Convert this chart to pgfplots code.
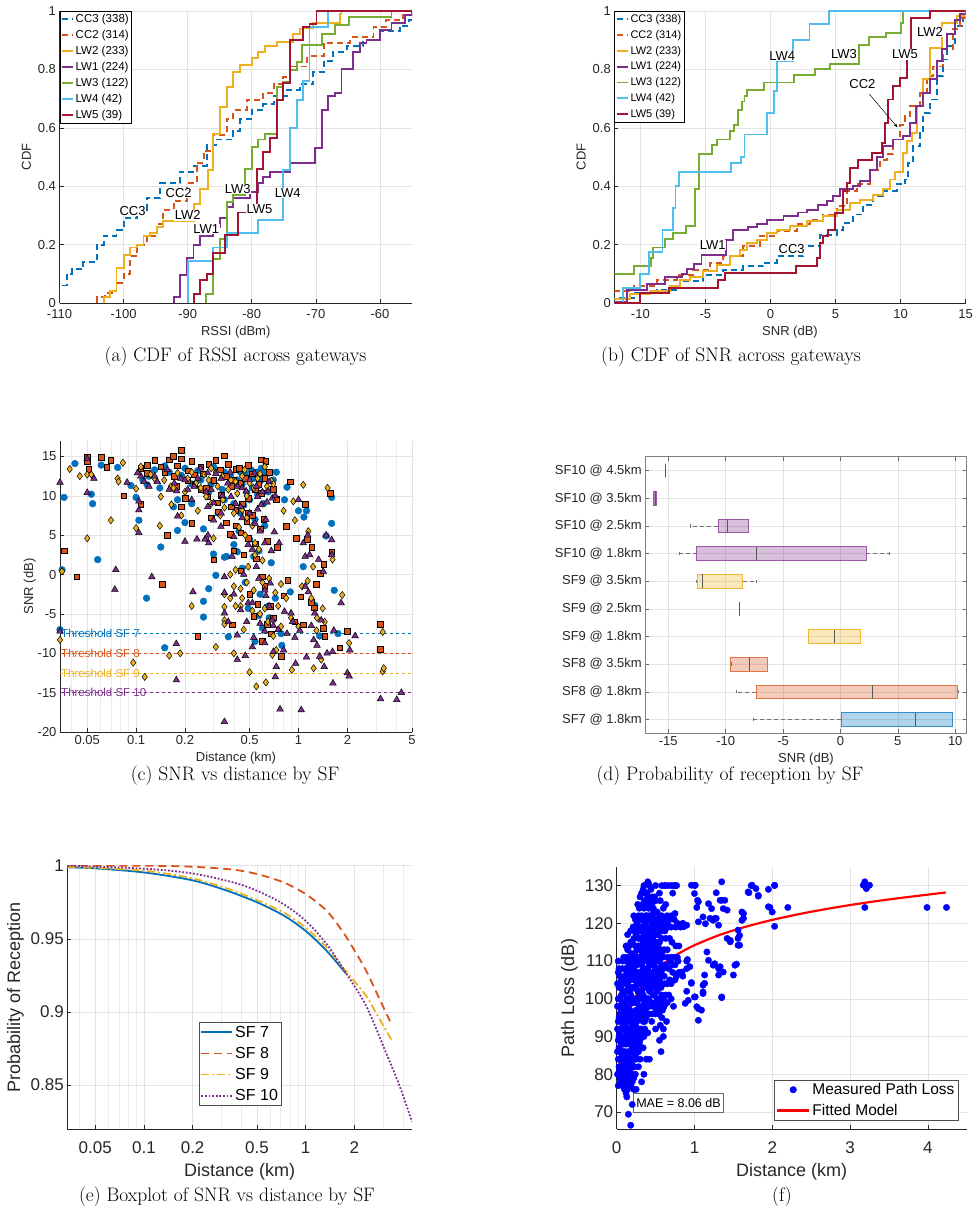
\documentclass[border=0pt]{standalone}
\usepackage{fontspec}
\setsansfont{Liberation Sans}
\usepackage{pgfplots}
\pgfplotsset{compat=1.18}
\usepgfplotslibrary{statistics}
\usetikzlibrary{arrows.meta}
\definecolor{mblue}{rgb}{0,0.447,0.741}
\definecolor{morange}{rgb}{0.85,0.325,0.098}
\definecolor{myellow}{rgb}{0.929,0.694,0.125}
\definecolor{mpurple}{rgb}{0.494,0.184,0.556}
\definecolor{mgreen}{rgb}{0.466,0.674,0.188}
\definecolor{mlblue}{rgb}{0.301,0.745,0.933}
\definecolor{mred}{rgb}{0.635,0.078,0.184}
\definecolor{axgray}{HTML}{262626}
\definecolor{gridgray}{HTML}{E3E3E3}
\newcommand{\fa}{\sffamily\fontsize{13}{15}\selectfont}
\newcommand{\fb}{\sffamily\fontsize{11.5}{13}\selectfont}
\newcommand{\fe}{\sffamily\fontsize{17}{20}\selectfont}
\newcommand{\fcap}{\fontsize{19.5}{22}\selectfont}
\tikzset{lab/.style={fill=white, inner sep=0.6pt, font=\fa, text=black}}
\pgfplotsset{
  matbase/.style={
    scale only axis,
    /pgf/number format/assume math mode=true,
    tick label style={color=axgray},
    label style={color=axgray},
    axis line style={-, axgray, line width=0.6pt},
    tick style={axgray, line width=0.6pt},
    tick align=inside,
    major tick length=4pt,
    minor tick length=0pt,
    grid=major,
    major grid style={gridgray, line width=0.6pt},
    minor grid style={gridgray!70, line width=0.4pt},
  },
  mat/.style={matbase, axis x line*=bottom, axis y line*=left},
  cdf/.style={const plot, no marks, line width=1.9pt},
  ccdash/.style={dash pattern=on 6pt off 4pt},
}
\begin{document}
\begin{tikzpicture}
\path[use as bounding box] (0,0) rectangle (979pt,-1212pt);
% ---------------- (a)
\begin{axis}[mat, at={(59.5pt,-11pt)}, anchor=north west, width=352.5pt, height=292pt,
  xmin=-110, xmax=-55, ymin=0, ymax=1,
  xtick={-110,-100,-90,-80,-70,-60}, ytick={0,0.2,0.4,0.6,0.8,1},
  tick label style={font=\fa}, label style={font=\fa}, xticklabel style={yshift=-3pt},
  xlabel={RSSI (dBm)}, ylabel={CDF},
  legend style={at={(0,1)}, anchor=north west, draw=black, line width=0.6pt, font=\fb, inner sep=1pt, row sep=2.2pt, cells={anchor=west}},
  legend image code/.code={\draw[#1] (0pt,0pt) -- (11pt,0pt);}]
\addplot[cdf, ccdash, mblue] coordinates {(-110,0)(-110,0.06)(-108.9,0.10)(-108.1,0.115)(-106.3,0.14)(-104.2,0.20)(-103.1,0.23)(-101.1,0.25)(-100,0.29)(-97.9,0.32)(-96.4,0.36)(-94.3,0.41)(-91.2,0.45)(-89.1,0.47)(-87.0,0.54)(-85.5,0.56)(-82.9,0.59)(-81.8,0.63)(-80,0.66)(-78.2,0.68)(-76.6,0.71)(-74.5,0.73)(-72.5,0.75)(-70.4,0.79)(-68.8,0.83)(-67.3,0.86)(-65.2,0.88)(-62.6,0.90)(-60,0.93)(-56.9,0.95)(-55.5,0.97)(-55,0.97)};
\addlegendentry{CC3 (338)}
\addplot[cdf, ccdash, morange] coordinates {(-104.1,0)(-104.1,0.02)(-102.9,0.035)(-101.1,0.07)(-100,0.1)(-99.0,0.16)(-97.9,0.2)(-96.4,0.23)(-94.8,0.27)(-93.8,0.32)(-92.2,0.35)(-90.1,0.41)(-88.6,0.48)(-87.5,0.52)(-86.0,0.575)(-83.9,0.63)(-82.9,0.66)(-80.8,0.695)(-78.2,0.72)(-76.6,0.75)(-75.1,0.775)(-74.0,0.81)(-71.4,0.845)(-68.8,0.89)(-64.7,0.91)(-61.0,0.945)(-59.0,0.97)(-56.4,0.985)(-55,1)};
\addlegendentry{CC2 (314)}
\addplot[cdf, myellow] coordinates {(-103.1,0)(-103.1,0.02)(-102.1,0.04)(-101.1,0.12)(-100,0.165)(-99.0,0.19)(-97.9,0.2)(-96.9,0.23)(-95.9,0.24)(-94.8,0.26)(-93.8,0.28)(-88.95,0.34)(-88.1,0.39)(-86.9,0.455)(-86.0,0.58)(-84.95,0.67)(-83.9,0.74)(-82.9,0.79)(-81.8,0.815)(-80,0.84)(-79,0.86)(-77.9,0.88)(-76.1,0.895)(-73.5,0.92)(-72.5,0.94)(-70.4,0.96)(-66.2,0.99)(-66,1)(-55,1)};
\addlegendentry{LW2 (233)}
\addplot[cdf, mpurple] coordinates {(-92.1,0)(-92.1,0.02)(-91.2,0.095)(-90.1,0.155)(-89.1,0.2)(-88.1,0.23)(-86.0,0.26)(-85,0.29)(-83.9,0.33)(-82.9,0.36)(-80.3,0.38)(-79.0,0.41)(-78.2,0.43)(-77.2,0.45)(-74.0,0.48)(-70.1,0.53)(-69.1,0.66)(-68.1,0.71)(-67.0,0.72)(-66.0,0.8)(-64.2,0.86)(-63.1,0.89)(-62.1,0.9)(-60,0.935)(-58.2,0.96)(-56.1,0.985)(-55,1)};
\addlegendentry{LW1 (224)}
\addplot[cdf, mgreen] coordinates {(-87.1,0)(-87.1,0.03)(-86.0,0.15)(-85.0,0.22)(-83.9,0.345)(-82.9,0.37)(-81.0,0.46)(-80.0,0.535)(-79.0,0.56)(-77.9,0.58)(-76.1,0.74)(-75.1,0.758)(-74.0,0.798)(-73.0,0.826)(-72.2,0.884)(-69.1,0.92)(-67.0,0.952)(-64.9,0.98)(-58.2,1)(-55,1)};
\addlegendentry{LW3 (122)}
\addplot[cdf, mlblue] coordinates {(-90.0,0)(-90.0,0.143)(-86.0,0.19)(-83.9,0.24)(-79.0,0.285)(-75.1,0.455)(-74.0,0.6)(-73.0,0.695)(-72.0,0.76)(-71.0,0.945)(-68.1,1)(-55,1)};
\addlegendentry{LW4 (42)}
\addplot[cdf, mred] coordinates {(-89.0,0)(-89.0,0.03)(-88.1,0.078)(-87.0,0.10)(-86.0,0.17)(-84.2,0.233)(-82.1,0.31)(-79.2,0.46)(-78.2,0.518)(-77.2,0.565)(-76.1,0.695)(-75.1,0.753)(-74.0,0.9)(-72.0,0.945)(-71.0,0.957)(-69.9,1)(-55,1)};
\addlegendentry{LW5 (39)}
\node[lab] at (axis cs:-98.6,0.315) {CC3};
\node[lab] at (axis cs:-91.4,0.377) {CC2};
\node[lab] at (axis cs:-90.0,0.30) {LW2};
\node[lab] at (axis cs:-87.1,0.254) {LW1};
\node[lab] at (axis cs:-82.2,0.39) {LW3};
\node[lab] at (axis cs:-78.8,0.32) {LW5};
\node[lab] at (axis cs:-74.4,0.377) {LW4};
\end{axis}
\node[font=\fcap] at (235.5pt,-357pt) {(a) CDF of RSSI across gateways};
% ---------------- (b)
\begin{axis}[mat, at={(614.3pt,-11pt)}, anchor=north west, width=351.4pt, height=292pt,
  xmin=-12, xmax=15, ymin=0, ymax=1,
  xtick={-10,-5,0,5,10,15}, ytick={0,0.2,0.4,0.6,0.8,1},
  tick label style={font=\fa}, label style={font=\fa}, xticklabel style={yshift=-3pt},
  xlabel={SNR (dB)}, ylabel={CDF},
  legend style={at={(0,1)}, anchor=north west, draw=black, line width=0.6pt, font=\sffamily\fontsize{11}{12}\selectfont, inner sep=1pt, row sep=2.4pt, cells={anchor=west}},
  legend image code/.code={\draw[#1] (0pt,0pt) -- (11pt,0pt);}]
\addplot[cdf, ccdash, mblue] coordinates {(-12,0)(-12,0.017)(-10.5,0.034)(-8.74,0.046)(-6.95,0.074)(-5.16,0.097)(-3.62,0.114)(-2.08,0.126)(-0.55,0.137)(0.48,0.16)(2.53,0.194)(3.8,0.234)(5.09,0.251)(5.6,0.274)(6.37,0.303)(7.14,0.337)(7.9,0.366)(8.67,0.383)(9.7,0.406)(10.34,0.423)(10.6,0.48)(10.98,0.537)(11.49,0.583)(11.75,0.651)(12.26,0.697)(12.77,0.777)(13.28,0.834)(13.54,0.88)(14.18,0.949)(14.82,0.983)(15,0.994)};
\addlegendentry{CC3 (338)}
\addplot[cdf, ccdash, morange] coordinates {(-12,0.04)(-10.5,0.057)(-8.74,0.08)(-7.2,0.097)(-5.93,0.114)(-4.65,0.137)(-3.62,0.16)(-2.08,0.194)(-0.8,0.229)(0.48,0.246)(2.01,0.27)(3.04,0.286)(4.06,0.303)(5.09,0.331)(5.86,0.383)(6.62,0.406)(7.65,0.457)(8.42,0.49)(8.93,0.509)(9.44,0.56)(9.95,0.611)(10.34,0.64)(10.72,0.674)(11.49,0.72)(12.0,0.777)(12.52,0.81)(13.28,0.869)(14.05,0.937)(14.56,0.977)(15,1)};
\addlegendentry{CC2 (314)}
\addplot[cdf, myellow] coordinates {(-12,0.015)(-10.8,0.03)(-9.26,0.04)(-7.72,0.057)(-6.95,0.08)(-6.18,0.09)(-5.16,0.11)(-4.13,0.13)(-3.11,0.16)(-2.34,0.18)(-1.83,0.205)(-1.06,0.217)(-0.29,0.24)(0.48,0.25)(1.5,0.263)(2.78,0.28)(4.06,0.297)(5.09,0.32)(6.11,0.343)(6.88,0.354)(7.9,0.37)(8.67,0.39)(9.19,0.423)(9.57,0.45)(10.2,0.514)(10.47,0.554)(10.85,0.583)(11.23,0.674)(11.75,0.766)(12.26,0.874)(13.16,0.96)(14.3,0.983)(15,1)};
\addlegendentry{LW2 (233)}
\addplot[cdf, mpurple] coordinates {(-12,0.005)(-11.05,0.045)(-9.5,0.065)(-8.1,0.09)(-6.8,0.1)(-6.4,0.115)(-5.9,0.135)(-5.3,0.165)(-3.4,0.217)(-2.85,0.25)(-1.7,0.26)(-1.06,0.27)(-0.29,0.285)(1.0,0.297)(2.14,0.31)(2.78,0.32)(3.68,0.337)(4.32,0.35)(4.83,0.366)(5.34,0.39)(6.37,0.4)(6.88,0.417)(7.65,0.457)(8.16,0.5)(8.67,0.537)(9.44,0.56)(10.2,0.571)(10.7,0.617)(11.2,0.674)(11.75,0.72)(12.26,0.766)(12.77,0.83)(13.16,0.87)(13.54,0.92)(14.18,0.97)(14.56,0.99)(15,1)};
\addlegendentry{LW1 (224)}
\addplot[cdf, mgreen] coordinates {(-12,0.1)(-10.5,0.126)(-9.2,0.155)(-9.0,0.19)(-8.1,0.22)(-7.5,0.24)(-6.5,0.263)(-5.8,0.39)(-5.5,0.51)(-4.5,0.54)(-4.1,0.56)(-3.1,0.59)(-2.8,0.61)(-2.5,0.66)(-2.2,0.69)(-2.0,0.71)(-1.8,0.73)(-0.5,0.755)(1.8,0.78)(3.4,0.8)(4.6,0.82)(6.8,0.885)(7.6,0.91)(8.9,0.925)(10.0,0.96)(10.2,1)(15,1)};
\addlegendentry{LW3 (122)}
\addplot[cdf, mlblue] coordinates {(-12,0)(-11.3,0.05)(-10,0.1)(-9.3,0.175)(-8.3,0.25)(-7.5,0.325)(-7.3,0.4)(-7.0,0.45)(-3.0,0.48)(-2.3,0.5)(-2.0,0.577)(-0.3,0.65)(0.27,0.725)(0.48,0.83)(1.76,0.9)(3.0,0.955)(4.5,1)(15,1)};
\addlegendentry{LW4 (42)}
\addplot[cdf, mred] coordinates {(-12,0)(-10.0,0.034)(-7.8,0.051)(-4.0,0.08)(-3.5,0.103)(1.96,0.126)(3.55,0.154)(3.8,0.206)(4.06,0.229)(4.45,0.251)(4.96,0.309)(5.6,0.383)(5.86,0.411)(6.11,0.463)(6.75,0.491)(7.78,0.514)(8.55,0.549)(8.8,0.617)(9.06,0.697)(9.44,0.743)(9.95,0.771)(10.47,0.85)(10.77,0.975)(12.26,1)(15,1)};
\addlegendentry{LW5 (39)}
\node[lab] at (axis cs:0.91,0.846) {LW4};
\node[lab] at (axis cs:5.65,0.851) {LW3};
\node[lab] at (axis cs:10.34,0.851) {LW5};
\node[lab] at (axis cs:12.26,0.929) {LW2};
\node[lab] at (axis cs:7.06,0.75) {CC2};
\node[lab] at (axis cs:-4.44,0.198) {LW1};
\node[lab] at (axis cs:1.63,0.186) {CC3};
\draw[-{Stealth[length=4pt]}, black, line width=0.5pt] (axis cs:7.6,0.715) -- (axis cs:9.75,0.602);
\end{axis}
\node[font=\fcap] at (731pt,-357pt) {(b) CDF of SNR across gateways};
% ---------------- (c)
\begin{axis}[mat, at={(60pt,-440.7pt)}, anchor=north west, width=352pt, height=291.3pt,
  xmode=log, xmin=0.034, xmax=5, ymin=-20, ymax=17,
  xtick={0.05,0.1,0.2,0.5,1,2,5}, xticklabels={0.05,0.1,0.2,0.5,1,2,5},
  minor xtick={0.04,0.06,0.07,0.08,0.09,0.3,0.4,0.6,0.7,0.8,0.9,3,4},
  ytick={-20,-15,-10,-5,0,5,10,15}, grid=both,
  tick label style={font=\fa}, label style={font=\fa}, ylabel shift=-5pt,
  xlabel={Distance (km)}, ylabel={SNR (dB)}]
\addplot[only marks, mark=*, mark size=3.4pt, mark options={draw=mblue, fill=mblue}] coordinates {(0.034,-7)(0.035,0.6)(0.036,9.8)(0.042,14.1)(0.053,10.2)(0.054,9.0)(0.058,1.9)(0.061,13.9)(0.077,13.6)(0.093,11.3)(0.1,9.8)(0.104,6.9)(0.116,-3.0)(0.117,11.4)(0.13,13.3)(0.142,3.5)(0.15,-9.3)(0.17,8.6)(0.18,5.6)(0.18,9.5)(0.2,6.6)(0.22,9.0)(0.26,-3.4)(0.26,-5.4)(0.26,5.8)(0.28,-1.8)(0.3,2.6)(0.3,13.7)(0.31,-0.1)(0.32,7.8)(0.34,10.8)(0.35,2.2)(0.36,2.3)(0.37,-7.9)(0.4,3.8)(0.4,9.0)(0.42,2.9)(0.44,13.0)(0.44,7.8)(0.48,10.4)(0.49,-4.3)(0.51,13.3)(0.53,2.3)(0.53,12.2)(0.54,-8.5)(0.54,7.0)(0.57,-5.2)(0.59,13.5)(0.62,6.2)(0.64,-4.1)(0.73,13.0)(0.78,-7.5)(0.79,-9.0)(0.82,9.5)(0.85,11.1)(0.89,-2.2)(1.0,8.1)(1.07,1.0)(1.08,7.3)(1.12,8.1)(1.26,-3.9)(1.35,-7.8)(1.48,4.9)(1.6,9.8)(1.6,6.5)(1.66,-2.0)(1.75,-7.5)(0.12,12.5)(0.16,13.0)(0.2,13.5)(0.25,12.0)(0.35,13.0)(0.45,11.5)(0.6,12.5)(0.65,10.5)(0.5,9.5)(0.28,10.5)(0.22,11.5)(0.55,13.0)(0.62,12.8)(0.7,12.0)(0.38,12.5)(0.42,12.0)(0.47,12.8)(0.52,11.0)(0.58,11.8)(0.66,12.9)(0.56,10.2)(0.61,9.0)(0.46,8.8)(0.35,9.5)(0.29,11.5)(0.24,13.2)(0.19,12.6)(0.15,13.8)(0.14,11.0)(0.11,12.0)(0.43,5.5)(0.5,4.5)(0.57,3.0)(0.47,-1.0)(0.58,-2.5)(0.66,-5.5)(0.6,-6.8)(0.72,-3.0)(0.68,1.5)(0.45,0.8)};
\addplot[only marks, mark=square*, mark size=2.8pt, mark options={draw=black, fill=morange, line width=0.5pt}] coordinates {(0.036,3.0)(0.043,-0.3)(0.05,14.9)(0.05,14.4)(0.051,13.4)(0.061,14.9)(0.066,13.6)(0.07,14.5)(0.084,10.0)(0.107,8.9)(0.117,13.9)(0.13,14.5)(0.145,-1.2)(0.156,5.0)(0.16,14.6)(0.17,15.0)(0.19,15.8)(0.19,14.7)(0.19,8.6)(0.2,9.7)(0.22,6.5)(0.22,14.4)(0.24,-7.8)(0.25,13.7)(0.29,7.2)(0.3,1.9)(0.31,14.5)(0.35,15.1)(0.37,14.0)(0.38,5.1)(0.39,-6.4)(0.41,13.4)(0.41,6.2)(0.44,5.3)(0.46,2.5)(0.49,4.6)(0.49,9.7)(0.49,13.9)(0.53,-5.3)(0.54,3.9)(0.59,14.6)(0.63,14.4)(0.61,7.0)(0.6,-0.3)(0.64,-6.3)(0.7,10.8)(0.73,9.6)(0.74,3.5)(0.78,-10.4)(0.81,-2.7)(0.84,6.1)(0.86,-0.7)(0.89,11.8)(0.97,4.6)(1.03,-2.8)(1.07,-6.4)(1.1,8.9)(1.21,3.5)(1.29,-1.2)(1.42,-6.8)(1.43,1.3)(1.57,10.3)(1.6,2.9)(1.8,-9.3)(2.0,-7.2)(3.2,-6.3)(3.2,-9.5)(0.107,13.5)(0.117,12.9)(0.142,13.7)(0.172,12.5)(0.176,11.2)(0.208,12.0)(0.228,12.7)(0.25,10.8)(0.276,9.9)(0.3,12.0)(0.334,10.1)(0.384,11.2)(0.41,8.2)(0.44,11.6)(0.49,7.8)(0.54,10.8)(0.59,10.3)(0.384,8.6)(0.318,9.1)(0.15,13.0)(0.18,13.8)(0.21,13.2)(0.23,11.5)(0.26,12.8)(0.28,14.0)(0.33,13.3)(0.36,12.5)(0.4,12.0)(0.43,13.5)(0.47,12.2)(0.52,12.8)(0.57,11.5)(0.62,12.2)(0.66,13.0)(0.27,11.0)(0.32,8.0)(0.36,6.6)(0.45,9.0)(0.52,7.5)(0.58,5.8)(0.64,4.2)(0.48,6.8)(0.55,2.0)(0.62,-1.5)(0.67,-4.0)(0.5,-2.5)(0.44,0.5)(0.4,3.0)(0.56,-3.8)(0.7,-5.5)(0.68,-7.5)(0.6,-8.5)(1.13,4.5)(1.2,-3.5)(1.25,-4.2)(1.36,0.2)(1.45,-7.8)(0.95,-6.0)};
\addplot[only marks, mark=diamond*, mark size=3.6pt, mark options={draw=black, fill=myellow, line width=0.5pt}] coordinates {(0.034,-8.3)(0.035,0.4)(0.039,13.4)(0.045,12.5)(0.05,4.6)(0.05,12.7)(0.053,12.7)(0.07,6.9)(0.077,12.2)(0.078,11.8)(0.083,14.2)(0.096,-11.2)(0.1,5.9)(0.1,10.9)(0.113,-13.0)(0.14,6.2)(0.142,9.9)(0.16,-10.3)(0.165,8.9)(0.187,-10.0)(0.19,7.5)(0.22,-4.0)(0.24,8.1)(0.27,4.6)(0.29,13.5)(0.3,4.6)(0.31,-9.2)(0.33,7.5)(0.35,-2.5)(0.35,-4.1)(0.35,-5.8)(0.35,-6.3)(0.38,0.0)(0.4,-10.0)(0.41,0.6)(0.41,-4.0)(0.44,-4.0)(0.44,-1.8)(0.45,8.2)(0.46,-7.0)(0.48,-1.0)(0.49,1.0)(0.5,-12.4)(0.52,-4.6)(0.54,2.5)(0.54,4.0)(0.55,-14.2)(0.6,-1.0)(0.62,-4.3)(0.63,-13.7)(0.68,11.9)(0.69,-10.2)(0.72,-2.3)(0.73,-9.6)(0.78,-1.2)(0.78,-6.6)(0.81,8.1)(0.84,-3.0)(0.91,-12.1)(0.93,9.3)(0.95,6.9)(1.0,-6.6)(1.07,11.4)(1.14,-0.8)(1.15,5.5)(1.23,1.0)(1.24,-11.9)(1.29,-7.1)(1.38,-10.8)(1.41,-4.3)(1.51,11.0)(1.62,1.9)(1.86,-2.6)(2.05,-8.7)(3.3,-7.3)(3.3,-12.3)(3.35,-11.9)(0.107,13.7)(0.123,12.7)(0.149,12.0)(0.164,11.2)(0.18,12.9)(0.208,12.2)(0.234,11.6)(0.263,12.7)(0.27,9.9)(0.318,11.2)(0.342,9.5)(0.384,12.0)(0.42,10.3)(0.466,13.3)(0.5,11.6)(0.56,12.2)(0.62,13.7)(0.4,7.8)(0.48,7.2)(0.13,12.2)(0.17,11.0)(0.2,10.5)(0.22,13.0)(0.25,11.0)(0.28,12.0)(0.31,13.0)(0.34,12.5)(0.37,10.8)(0.41,11.8)(0.45,12.5)(0.48,10.0)(0.53,11.0)(0.58,12.8)(0.64,11.2)(0.7,11.5)(0.29,9.0)(0.35,8.5)(0.43,6.0)(0.47,5.0)(0.52,6.2)(0.57,3.2)(0.6,1.8)(0.66,-0.5)(0.53,-2.0)(0.58,-5.0)(0.65,-6.0)(0.7,-7.8)(0.75,-4.0)(0.9,-5.5)(1.05,-1.5)(1.2,-3.0)(1.3,-5.5)(1.45,-6.0)(0.45,-3.0)(0.4,-1.5)(0.38,-3.0)};
\addplot[only marks, mark=triangle*, mark size=3.8pt, mark options={draw=black, fill=mpurple, line width=0.5pt}] coordinates {(0.034,11.7)(0.034,-7.2)(0.05,14.7)(0.05,10.4)(0.055,12.2)(0.075,0.6)(0.074,-1.9)(0.088,11.7)(0.104,5.3)(0.104,8.2)(0.104,9.3)(0.107,12.5)(0.125,-0.3)(0.177,-8.8)(0.177,-13.4)(0.2,4.2)(0.224,-2.2)(0.237,4.5)(0.266,4.5)(0.28,4.0)(0.277,5.0)(0.333,6.1)(0.35,-0.3)(0.35,-2.3)(0.35,-4.9)(0.35,-18.7)(0.39,2.3)(0.4,4.8)(0.42,-7.7)(0.42,-10.8)(0.45,7.2)(0.46,0.0)(0.47,-10.3)(0.49,-3.6)(0.49,3.8)(0.52,-3.6)(0.52,-9.2)(0.55,1.0)(0.56,8.3)(0.62,-7.2)(0.62,4.0)(0.62,-8.7)(0.64,9.2)(0.63,-2.7)(0.67,-1.1)(0.69,-5.8)(0.7,-9.8)(0.71,5.4)(0.73,-11.7)(0.72,-13.0)(0.76,4.0)(0.77,-17.1)(0.81,-9.6)(0.82,-4.7)(0.9,-4.9)(0.92,-6.0)(0.96,-11.3)(1.0,9.5)(1.02,-7.1)(1.04,-17.2)(1.07,4.0)(1.1,2.3)(1.12,-10.5)(1.14,5.0)(1.15,-2.2)(1.17,2.5)(1.24,-8.3)(1.26,-4.9)(1.33,1.9)(1.35,-10.4)(1.38,-5.8)(1.42,0.4)(1.44,-11.7)(1.48,5.0)(1.6,4.4)(1.6,2.5)(1.63,-13.8)(1.62,-9.8)(1.65,-7.1)(1.83,-3.6)(2.0,-12.5)(2.05,-12.9)(2.07,-9.6)(2.23,-7.8)(3.2,-15.8)(4.03,-15.9)(4.3,-15.0)(0.102,12.9)(0.112,11.8)(0.12,11.2)(0.135,11.8)(0.156,13.3)(0.172,11.6)(0.178,10.6)(0.18,7.4)(0.189,12.2)(0.208,10.8)(0.228,11.2)(0.25,13.5)(0.276,12.9)(0.29,10.8)(0.3,9.1)(0.334,12.2)(0.367,11.6)(0.384,9.9)(0.42,11.2)(0.44,8.6)(0.476,10.6)(0.536,12.9)(0.56,9.9)(0.59,8.9)(0.65,10.6)(0.69,9.7)(0.334,7.8)(0.3,6.9)(0.276,8.6)(0.13,12.5)(0.16,10.8)(0.2,12.0)(0.22,9.5)(0.24,12.2)(0.27,10.5)(0.31,12.8)(0.34,10.0)(0.38,13.0)(0.41,9.0)(0.45,11.0)(0.5,12.0)(0.55,11.2)(0.6,10.5)(0.66,11.8)(0.72,10.0)(0.5,7.8)(0.54,6.5)(0.58,5.5)(0.63,7.0)(0.68,3.0)(0.52,3.2)(0.57,-0.5)(0.62,-2.0)(0.66,-4.0)(0.7,-6.5)(0.75,-7.0)(0.58,-6.2)(0.53,-8.0)(0.48,-6.0)(0.44,-4.5)(0.4,-2.5)(0.37,-6.0)(1.1,-1.5)(1.2,-6.5)(1.3,-9.0)(1.5,-10.0)(0.85,-7.5)(0.95,-8.0)};
\addplot[mblue, dashed, line width=0.5pt] coordinates {(0.034,-7.5)(5,-7.5)};
\addplot[morange, dashed, line width=0.5pt] coordinates {(0.034,-10)(5,-10)};
\addplot[myellow, dashed, line width=0.5pt] coordinates {(0.034,-12.5)(5,-12.5)};
\addplot[mpurple, dashed, line width=0.5pt] coordinates {(0.034,-15)(5,-15)};
\node[anchor=west, inner sep=0pt, font=\fb, text=mblue] at (axis cs:0.0345,-7.5) {Threshold SF 7};
\node[anchor=west, inner sep=0pt, font=\fb, text=morange] at (axis cs:0.0345,-10) {Threshold SF 8};
\node[anchor=west, inner sep=0pt, font=\fb, text=myellow] at (axis cs:0.0345,-12.5) {Threshold SF 9};
\node[anchor=west, inner sep=0pt, font=\fb, text=mpurple] at (axis cs:0.0345,-15) {Threshold SF 10};
\end{axis}
\node[font=\fcap] at (235pt,-776pt) {(c) SNR vs distance by SF};
% ---------------- (d)
\begin{axis}[matbase, at={(645.3pt,-456.7pt)}, anchor=north west, width=321.4pt, height=276.6pt,
  axis line style={-, black!50, line width=0.6pt}, tick style={black!60},
  xmin=-17, xmax=11, ymin=0.5, ymax=10.5,
  xtick={-15,-10,-5,0,5,10}, ytick={1,2,3,4,5,6,7,8,9,10},
  yticklabels={SF7 @ 1.8km, SF8 @ 1.8km, SF8 @ 3.5km, SF9 @ 1.8km, SF9 @ 2.5km, SF9 @ 3.5km, SF10 @ 1.8km, SF10 @ 2.5km, SF10 @ 3.5km, SF10 @ 4.5km},
  tick label style={font=\fa}, label style={font=\fa},
  xlabel={SNR (dB)},
  boxplot/draw direction=x,
  boxplot/whisker extend=0.12,
  boxplot/every whisker/.style={black!55, dash pattern=on 4pt off 3pt, line width=0.6pt},
  boxplot/every median/.style={black!65, line width=0.7pt},
  boxplot/every box/.style={line width=0.8pt}]
\addplot[draw=mblue!80, fill=mblue, fill opacity=0.3, boxplot prepared={lower whisker=-7.55, lower quartile=0.08, median=6.49, upper quartile=9.77, upper whisker=9.77, draw position=1, box extend=0.5}] coordinates {};
\addplot[draw=morange!80, fill=morange, fill opacity=0.3, boxplot prepared={lower whisker=-9.05, lower quartile=-7.34, median=2.75, upper quartile=10.23, upper whisker=10.23, draw position=2, box extend=0.5}] coordinates {};
\addplot[draw=morange!80, fill=morange, fill opacity=0.3, boxplot prepared={lower whisker=-9.55, lower quartile=-9.55, median=-7.94, upper quartile=-6.33, upper whisker=-6.33, draw position=3, box extend=0.5}] coordinates {};
\addplot[draw=myellow!90, fill=myellow, fill opacity=0.3, boxplot prepared={lower whisker=-2.82, lower quartile=-2.82, median=-0.55, upper quartile=1.77, upper whisker=1.77, draw position=4, box extend=0.5}] coordinates {};
\addplot[draw=myellow!90, fill=myellow, fill opacity=0.3, boxplot prepared={lower whisker=-8.82, lower quartile=-8.82, median=-8.82, upper quartile=-8.82, upper whisker=-8.82, draw position=5, box extend=0.5}] coordinates {};
\addplot[draw=myellow!90, fill=myellow, fill opacity=0.3, boxplot prepared={lower whisker=-12.53, lower quartile=-12.42, median=-12.04, upper quartile=-8.5, upper whisker=-7.34, draw position=6, box extend=0.5}] coordinates {};
\addplot[draw=mpurple!80, fill=mpurple, fill opacity=0.3, boxplot prepared={lower whisker=-14.07, lower quartile=-12.53, median=-7.34, upper quartile=2.26, upper whisker=4.29, draw position=7, box extend=0.5}] coordinates {};
\addplot[draw=mpurple!80, fill=mpurple, fill opacity=0.3, boxplot prepared={lower whisker=-13.06, lower quartile=-10.65, median=-9.87, upper quartile=-8.0, upper whisker=-8.0, draw position=8, box extend=0.5}] coordinates {};
\addplot[draw=mpurple!80, fill=mpurple, fill opacity=0.6, boxplot prepared={lower whisker=-16.3, lower quartile=-16.3, median=-16.1, upper quartile=-16.0, upper whisker=-16.0, draw position=9, box extend=0.5}] coordinates {};
\addplot[draw=mpurple!80, fill=mpurple, fill opacity=0.3, boxplot prepared={lower whisker=-15.26, lower quartile=-15.26, median=-15.26, upper quartile=-15.26, upper whisker=-15.26, draw position=10, box extend=0.5}] coordinates {};
\end{axis}
\node[font=\fcap] at (730pt,-776pt) {(d) Probability of reception by SF};
% ---------------- (e)
\begin{axis}[mat, at={(67.3pt,-865.7pt)}, anchor=north west, width=344.7pt, height=263.3pt,
  xmode=log, xmin=0.0336, xmax=4.54, ymin=0.82, ymax=1,
  xtick={0.05,0.1,0.2,0.5,1,2}, xticklabels={0.05,0.1,0.2,0.5,1,2},
  minor xtick={0.04,0.06,0.07,0.08,0.09,0.3,0.4,0.6,0.7,0.8,0.9,3,4},
  ytick={0.85,0.9,0.95,1}, yticklabels={0.85,0.9,0.95,1}, grid=both,
  tick label style={font=\fe}, label style={font=\sffamily\fontsize{18}{21}\selectfont},
  xticklabel style={yshift=-9pt}, xlabel style={yshift=-3pt},
  xlabel={Distance (km)}, ylabel={Probability of Reception},
  legend style={at={(0.381,0.406)}, anchor=north west, draw=black!70, line width=0.6pt, font=\sffamily\fontsize{16}{18}\selectfont, inner sep=1.5pt, row sep=4.5pt, cells={anchor=west}},
  legend image code/.code={\draw[#1] (0pt,0pt) -- (31pt,0pt);}]
\addplot[mblue, line width=1.8pt, smooth] coordinates {(0.0336,0.9989)(0.05,0.9982)(0.1,0.9954)(0.2,0.990)(0.325,0.983)(0.5,0.975)(0.73,0.966)(1.0,0.9554)(1.35,0.9417)(1.77,0.9264)};
\addlegendentry{SF 7}
\addplot[morange, line width=1.8pt, dash pattern=on 8pt off 5pt, smooth] coordinates {(0.0336,1.0)(0.1,1.0)(0.2,0.9993)(0.356,0.9973)(0.5,0.9943)(0.73,0.9886)(1.0,0.9806)(1.35,0.9691)(1.71,0.9543)(2.07,0.9394)(2.37,0.928)(2.87,0.9085)(3.32,0.8937)};
\addlegendentry{SF 8}
\addplot[myellow, line width=1.8pt, dash pattern=on 8pt off 3pt on 2pt off 3pt, smooth] coordinates {(0.0336,0.9993)(0.1,0.9966)(0.2,0.9913)(0.325,0.9845)(0.5,0.9765)(0.73,0.968)(1.0,0.9577)(1.35,0.944)(1.77,0.928)(2.0,0.921)(2.37,0.9108)(2.8,0.897)(3.4,0.8807)};
\addlegendentry{SF 9}
\addplot[mpurple, line width=1.8pt, dash pattern=on 1.8pt off 1.8pt, smooth] coordinates {(0.0336,1.0)(0.1,0.998)(0.2,0.9947)(0.356,0.9886)(0.5,0.9829)(0.73,0.9737)(1.0,0.9623)(1.35,0.9463)(1.77,0.9268)(2.37,0.904)(3.14,0.872)(3.82,0.849)(4.54,0.825)};
\addlegendentry{SF 10}
\end{axis}
\node[font=\fcap] at (227pt,-1197pt) {(e) Boxplot of SNR vs distance by SF};
% ---------------- (f)
\begin{axis}[mat, at={(616.7pt,-866.7pt)}, anchor=north west, width=350pt, height=262.3pt,
  xmin=0, xmax=4.5, ymin=65.5, ymax=135,
  xtick={0,1,2,3,4}, ytick={70,80,90,100,110,120,130},
  tick label style={font=\fe}, label style={font=\sffamily\fontsize{18}{21}\selectfont},
  xticklabel style={yshift=-9pt}, xlabel style={yshift=-3pt},
  xlabel={Distance (km)}, ylabel={Path Loss (dB)},
  legend style={at={(0.976,0.032)}, anchor=south east, draw=black!70, line width=0.6pt, font=\sffamily\fontsize{15.5}{18}\selectfont, inner sep=1.5pt, row sep=4pt, cells={anchor=west}},
  legend image code/.code={\draw[#1] (0pt,0pt) -- (32pt,0pt);}]
\addplot[only marks, mark=*, mark size=3.2pt, mark options={draw=blue, fill=blue}, legend image code/.code={\draw[mark options={draw=blue, fill=blue}] plot[mark=*, mark size=3.2pt] coordinates {(16pt,0pt)};}] coordinates {
(0.41,130.5)(1.0,130)(1.35,131)(1.73,130)(2.03,130)(1.69,128.3)(1.82,127.4)(1.95,124.4)(2.03,119.2)(2.2,124.2)(1.0,127.9)(1.05,125.7)(1.18,125.2)(1.22,123.9)(1.35,126.1)(1.37,123.9)(1.26,121.3)(1.14,119.9)(1.31,119.5)(1.61,123.0)(1.63,121.3)(1.46,115.5)(1.58,116.8)(1.58,114.2)(1.52,108.9)(1.5,106.3)(1.18,110.2)(1.24,108.9)(1.31,108.0)(1.13,106.3)(1.11,103.6)(1.11,101.8)(1.35,100.5)(1.0,100.5)(0.88,98.8)(1.03,97.9)(1.09,97.0)(1.05,94.3)(0.96,104.1)(0.9,108.0)(0.84,107.1)(0.9,119.5)(0.86,119.1)(0.75,122.6)(0.73,130)(0.77,130)(0.62,130)
(3.17,130.1)(3.19,131)(3.21,129.2)(3.25,130.1)(3.19,124.2)(3.99,124.2)(4.24,124.2)(2.03,130.1)(2.0,123.0)(1.97,124.2)(1.95,129)(1.82,127.2)(1.79,129.2)(1.74,130.1)(1.7,128.1)(1.63,122.6)(1.61,120.8)(1.56,118.2)(1.56,116)(1.56,114.2)(1.54,109.2)(1.42,123.5)(1.42,116)(1.46,115.1)(1.37,107.1)(1.35,100.3)(1.33,126.1)(1.39,126.1)(1.28,128.1)(1.33,108.5)(1.31,106.3)(1.26,109.3)(1.16,112.4)(1.13,104.1)(1.11,101.4)(1.05,97.4)(1.01,100.5)(0.96,104.3)(0.94,108.5)(0.91,110.4)(0.92,99.6)(1.01,130.1)(0.96,130.1)(1.04,126.1)(1.03,124.2)(1.05,120.4)(1.11,121.7)(1.2,121.3)(1.24,120.8)(1.28,121.3)
(0.02,110)(0.03,104)(0.03,103)(0.04,96)(0.02,94)(0.05,92)(0.03,90)(0.06,88)(0.04,86)(0.02,84)(0.05,82)(0.07,80)(0.04,79)(0.08,78)(0.1,76)(0.12,75)(0.13,74)(0.08,97)(0.1,99)(0.06,101)(0.1,106)(0.08,110)(0.12,110)(0.14,113)(0.15,108)(0.12,102)(0.15,100)(0.16,97)(0.14,94)(0.12,92)(0.18,90)(0.16,88)(0.1,86)(0.13,84)(0.17,83)(0.2,82)(0.18,80)(0.15,79)(0.2,78)(0.22,76)(0.24,85)(0.22,88)(0.25,91)(0.2,93)(0.23,96)(0.19,99)(0.26,99)(0.22,103)(0.18,105)(0.25,106)(0.2,110)(0.23,112)(0.18,115)(0.22,122)(0.27,118)(0.26,113)(0.3,110)(0.28,107)(0.32,104)(0.3,101)(0.34,98)(0.28,95)(0.32,92)(0.3,89)(0.35,90)(0.27,87)(0.3,84)(0.38,84)(0.2,72)(0.25,76)(0.36,126)(0.4,131)(0.42,130)(0.44,129)(0.46,127)(0.38,125)(0.5,126)(0.48,123)(0.42,122)(0.36,120)(0.4,118)(0.45,119)(0.5,121)(0.55,120)(0.58,119)(0.52,117)(0.45,116)(0.38,115)(0.42,113)(0.48,112)(0.53,114)(0.58,116)(0.62,118)(0.6,121)(0.65,120)(0.7,119)(0.55,110)(0.5,108)(0.45,109)(0.4,110)(0.35,112)(0.33,116)(0.3,118)(0.42,106)(0.48,105)(0.55,105)(0.6,108)(0.65,111)(0.7,111)(0.75,109)(0.78,111)(0.62,104)(0.68,105)(0.72,107)(0.75,105)(0.6,100)(0.65,99)(0.7,100)(0.55,98)(0.5,96)(0.45,96)(0.4,100)(0.38,103)(0.58,95)(0.6,92)(0.6,90)(0.57,86)(0.45,94)(0.42,84)(0.35,80)(0.32,78)(0.5,130)(0.55,128)(0.58,130)(0.62,130)(0.66,130)(0.7,130)(0.75,130)(0.72,128)(0.56,126)(0.6,124)(0.65,122)(0.7,122)(0.74,121)(0.68,116)(0.76,114)(0.8,114)(0.78,120)(0.82,119)(0.85,120)(0.8,107)(0.85,106)(0.9,110)(0.9,102)(0.15,69.4)(0.18,66.5)
(0.03,98)(0.05,96)(0.07,94)(0.09,92)(0.11,90)(0.13,96)(0.17,102)(0.21,107)(0.24,109)(0.27,111)(0.29,114)(0.31,116)(0.34,118)(0.33,121)(0.29,124)(0.34,129)(0.39,128)(0.44,124)(0.47,118)(0.52,123)(0.4,106)(0.36,108)(0.34,104)(0.37,100)(0.42,102)(0.47,101)(0.52,102)(0.57,103)(0.53,107)(0.58,112)(0.46,114)(0.4,115)(0.07,85)(0.09,83)(0.11,81)(0.14,82)(0.06,90)(0.09,101)(0.11,104)(0.16,106)(0.19,108)(0.24,103)(0.27,102)(0.21,100)(0.17,95)(0.19,92)(0.23,90)(0.26,94)(0.31,96)(0.36,94)(0.24,80)(0.28,82)(0.34,87)(0.4,91)(0.5,92)(0.55,89)
(0.01,80)(0.01,86)(0.01,92)(0.01,98)(0.01,104)(0.02,77)(0.02,89)(0.02,100)(0.02,107)(0.03,82)(0.03,87)(0.03,95)(0.03,108)(0.04,81)(0.04,91)(0.04,100)(0.04,106)(0.05,78)(0.05,86)(0.05,98)(0.05,103)(0.06,80)(0.06,84)(0.06,94)(0.06,97)(0.06,105)(0.07,77)(0.07,89)(0.07,99)(0.07,108)(0.08,82)(0.08,86)(0.08,93)(0.08,102)(0.09,79)(0.09,88)(0.09,96)(0.09,105)(0.09,111)
(0.1,80)(0.1,89)(0.1,95)(0.1,102)(0.11,77)(0.11,85)(0.11,93)(0.11,98)(0.11,108)(0.12,81)(0.12,88)(0.12,96)(0.12,105)(0.12,114)(0.13,78)(0.13,90)(0.13,100)(0.13,107)(0.13,111)(0.14,76)(0.14,86)(0.14,91)(0.14,98)(0.14,104)(0.14,117)(0.15,83)(0.15,89)(0.15,95)(0.15,103)(0.15,111)(0.16,79)(0.16,85)(0.16,92)(0.16,100)(0.16,109)(0.16,114)(0.17,81)(0.17,88)(0.17,97)(0.17,105)(0.17,111)(0.18,77)(0.18,86)(0.18,94)(0.18,101)(0.18,108)(0.18,118)(0.19,83)(0.19,89)(0.19,96)(0.19,103)(0.19,112)(0.2,80)(0.2,87)(0.2,99)(0.2,106)(0.2,115)(0.21,84)(0.21,91)(0.21,95)(0.21,103)(0.21,111)(0.21,119)(0.22,79)(0.22,85)(0.22,94)(0.22,100)(0.22,108)(0.22,116)(0.23,82)(0.23,89)(0.23,99)(0.23,105)(0.23,118)(0.24,87)(0.24,93)(0.24,100)(0.24,106)(0.24,114)(0.24,121)(0.25,84)(0.25,89)(0.25,97)(0.25,103)(0.25,110)(0.25,117)(0.26,86)(0.26,92)(0.26,96)(0.26,104)(0.26,109)(0.26,120)(0.27,90)(0.27,97)(0.27,106)(0.27,114)(0.27,125)(0.28,86)(0.28,92)(0.28,100)(0.28,110)(0.28,116)(0.28,122)(0.29,88)(0.29,98)(0.29,105)(0.29,111)(0.29,119)
(0.3,92)(0.3,97)(0.3,104)(0.3,113)(0.3,121)(0.3,127)(0.31,90)(0.31,100)(0.31,107)(0.31,111)(0.31,119)(0.32,95)(0.32,102)(0.32,109)(0.32,114)(0.32,122)(0.32,128)(0.33,91)(0.33,98)(0.33,106)(0.33,112)(0.33,118)(0.33,125)(0.34,94)(0.34,101)(0.34,108)(0.34,115)(0.34,121)(0.35,96)(0.35,103)(0.35,110)(0.35,117)(0.35,124)(0.35,130)(0.36,92)(0.36,99)(0.36,105)(0.36,113)(0.36,118)(0.37,97)(0.37,104)(0.37,111)(0.37,116)(0.37,122)(0.37,128)(0.38,95)(0.38,100)(0.38,107)(0.38,112)(0.38,119)(0.39,98)(0.39,104)(0.39,110)(0.39,116)(0.39,122)(0.4,96)(0.4,103)(0.4,108)(0.4,114)(0.4,121)(0.4,127)(0.41,100)(0.41,105)(0.41,112)(0.41,117)(0.41,124)(0.42,98)(0.42,109)(0.42,115)(0.42,119)(0.42,126)(0.43,102)(0.43,107)(0.43,111)(0.43,118)(0.43,121)(0.44,104)(0.44,110)(0.44,114)(0.44,117)(0.44,122)(0.45,99)(0.45,106)(0.45,112)(0.45,120)(0.45,125)(0.46,103)(0.46,109)(0.46,116)(0.46,122)(0.47,98)(0.47,107)(0.47,113)(0.47,120)(0.47,124)(0.48,101)(0.48,109)(0.48,115)(0.48,119)(0.49,104)(0.49,110)(0.49,117)(0.49,121)(0.49,127)(0.5,99)(0.5,105)(0.5,112)(0.5,118)(0.5,123)(0.51,97)(0.51,106)(0.51,111)(0.51,115)(0.51,120)(0.52,100)(0.52,108)(0.52,113)(0.52,119)(0.53,103)(0.53,110)(0.53,117)(0.53,121)(0.54,96)(0.54,106)(0.54,112)(0.54,118)(0.55,100)(0.55,108)(0.55,115)(0.55,122)(0.56,93)(0.56,104)(0.56,111)(0.56,119)(0.57,99)(0.57,107)(0.57,113)(0.57,120)(0.58,101)(0.58,109)(0.58,122)(0.59,97)(0.59,104)(0.59,111)(0.59,118)
(0.61,98)(0.61,106)(0.61,113)(0.61,120)(0.63,101)(0.63,109)(0.63,116)(0.63,125)(0.64,94)(0.65,104)(0.65,113)(0.66,119)(0.67,101)(0.67,108)(0.68,121)(0.69,110)(0.7,104)(0.71,115)(0.72,109)(0.73,98)(0.74,111)(0.76,119)(0.77,106)(0.79,110)};
\addlegendentry{Measured Path Loss}
\addplot[red, line width=2.2pt, smooth] coordinates {(0.034,81.5)(0.045,84.2)(0.06,86.95)(0.08,89.74)(0.1,91.9)(0.13,94.44)(0.17,97.04)(0.22,99.54)(0.3,102.54)(0.4,105.33)(0.5,107.49)(0.65,110.03)(0.8,112.04)(1.0,114.2)(1.3,116.74)(1.6,118.75)(2.0,120.91)(2.5,123.07)(3.0,124.84)(3.5,126.33)(4.23,128.17)};
\addlegendentry{Fitted Model}
\node[draw=black!60, fill=white, line width=0.6pt, inner xsep=3pt, inner ysep=5pt, font=\sffamily\fontsize{12.5}{14}\selectfont] at (axis cs:0.794,72.4) {MAE = 8.06 dB};
\end{axis}
\node[font=\fcap] at (782pt,-1197pt) {(f)};
\end{tikzpicture}
\end{document}
